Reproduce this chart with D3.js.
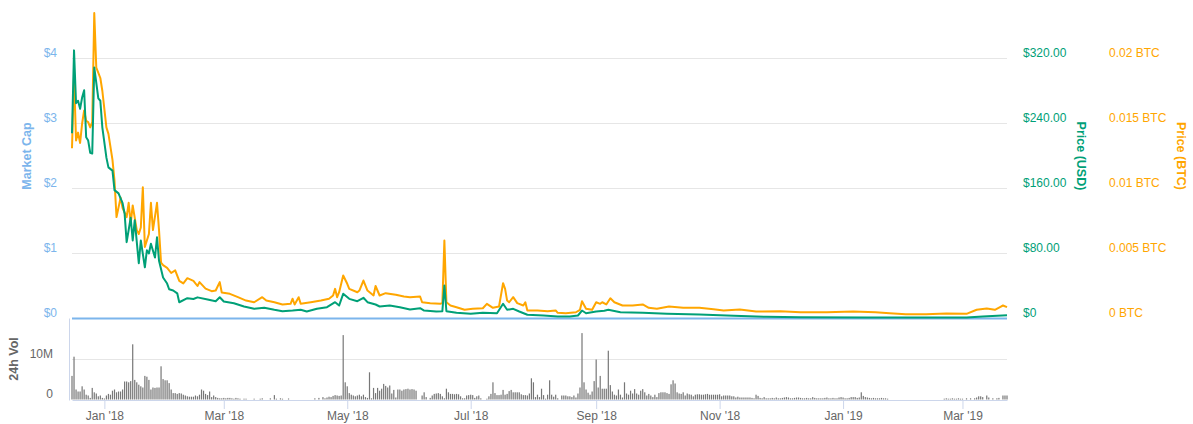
<!DOCTYPE html>
<html>
<head>
<meta charset="utf-8">
<script src="https://cdn.jsdelivr.net/npm/d3@7"></script>
<style>
body { margin: 0; background: #fff; }
svg { display: block; font-family: "Liberation Sans", Arial, Helvetica, sans-serif; }
</style>
</head>
<body>
<svg width="1193" height="424"></svg>
<script>
// ---------------- data ----------------
var startDate = "2017-12-16",
    endDate = "2019-03-23";

// Price (USD), sampled points
var usdPoints = [
  ["2017-12-16", 228], ["2017-12-17", 330], ["2017-12-18", 265], ["2017-12-19", 268],
  ["2017-12-20", 258], ["2017-12-21", 272], ["2017-12-22", 281], ["2017-12-23", 223],
  ["2017-12-24", 219], ["2017-12-25", 204], ["2017-12-26", 203], ["2017-12-27", 309],
  ["2017-12-29", 271], ["2017-12-30", 268], ["2017-12-31", 235], ["2018-01-02", 198],
  ["2018-01-03", 186], ["2018-01-05", 182], ["2018-01-06", 158], ["2018-01-08", 154],
  ["2018-01-10", 142], ["2018-01-11", 129], ["2018-01-12", 94], ["2018-01-14", 124],
  ["2018-01-15", 96], ["2018-01-16", 121], ["2018-01-18", 68], ["2018-01-19", 96],
  ["2018-01-21", 63], ["2018-01-22", 84], ["2018-01-23", 80], ["2018-01-24", 92],
  ["2018-01-26", 75], ["2018-01-27", 100], ["2018-01-28", 71], ["2018-01-30", 50.5],
  ["2018-02-01", 43], ["2018-02-02", 36], ["2018-02-04", 34.5], ["2018-02-06", 31],
  ["2018-02-07", 20], ["2018-02-11", 25], ["2018-02-14", 24], ["2018-02-16", 26],
  ["2018-02-21", 23.4], ["2018-02-25", 21.3], ["2018-02-27", 26.2], ["2018-03-01", 20.9],
  ["2018-03-06", 18.8], ["2018-03-11", 14.8], ["2018-03-16", 11.9], ["2018-03-21", 13.2],
  ["2018-03-26", 10.7], ["2018-03-30", 9], ["2018-04-04", 9.8], ["2018-04-08", 10.7],
  ["2018-04-11", 8.6], ["2018-04-16", 11.9], ["2018-04-21", 13.9], ["2018-04-25", 20.1],
  ["2018-04-27", 16], ["2018-04-29", 30.4], ["2018-05-02", 24.2], ["2018-05-06", 21.3],
  ["2018-05-09", 25.5], ["2018-05-11", 20.1], ["2018-05-15", 17.2], ["2018-05-17", 14.8],
  ["2018-05-22", 16], ["2018-05-27", 13.9], ["2018-06-01", 11.1], ["2018-06-06", 12.7],
  ["2018-06-08", 9.8], ["2018-06-14", 8.6], ["2018-06-17", 9], ["2018-06-18", 40.6],
  ["2018-06-19", 9], ["2018-06-24", 7], ["2018-07-01", 5.8], ["2018-07-07", 7],
  ["2018-07-14", 6.5], ["2018-07-17", 18.1], ["2018-07-19", 10.7], ["2018-07-22", 11.9],
  ["2018-07-25", 8.6], ["2018-07-29", 4.6], ["2018-08-06", 3.7], ["2018-08-13", 2.5],
  ["2018-08-19", 2.5], ["2018-08-23", 3.7], ["2018-08-25", 9.8], ["2018-08-27", 6.5],
  ["2018-09-01", 8.6], ["2018-09-05", 9.5], ["2018-09-07", 10.7], ["2018-09-13", 7.8],
  ["2018-09-24", 7], ["2018-10-06", 5.8], ["2018-10-22", 4.9], ["2018-11-08", 3.3],
  ["2018-11-24", 2.1], ["2018-12-11", 1.6], ["2019-01-13", 1.2], ["2019-03-03", 1.2],
  ["2019-03-11", 2.5], ["2019-03-23", 4.1]
];

// Price (BTC), sampled points
var btcPoints = [
  ["2017-12-16", 0.0131], ["2017-12-17", 0.0187], ["2017-12-18", 0.0137], ["2017-12-19", 0.0143],
  ["2017-12-20", 0.0135], ["2017-12-21", 0.0150], ["2017-12-22", 0.0160], ["2017-12-23", 0.0152],
  ["2017-12-24", 0.0151], ["2017-12-25", 0.0147], ["2017-12-26", 0.0151], ["2017-12-27", 0.0235],
  ["2017-12-28", 0.0193], ["2017-12-30", 0.0185], ["2017-12-31", 0.0175], ["2018-01-02", 0.0147],
  ["2018-01-03", 0.0142], ["2018-01-05", 0.0122], ["2018-01-06", 0.0106], ["2018-01-07", 0.0078],
  ["2018-01-09", 0.0093], ["2018-01-10", 0.0085], ["2018-01-12", 0.0078], ["2018-01-13", 0.0089],
  ["2018-01-14", 0.0073], ["2018-01-15", 0.0087], ["2018-01-17", 0.0068], ["2018-01-18", 0.0065],
  ["2018-01-19", 0.0070], ["2018-01-20", 0.0101], ["2018-01-21", 0.0055], ["2018-01-23", 0.0065],
  ["2018-01-24", 0.0089], ["2018-01-25", 0.0068], ["2018-01-27", 0.0089], ["2018-01-28", 0.0068],
  ["2018-01-29", 0.0043], ["2018-01-30", 0.0041], ["2018-02-01", 0.0039], ["2018-02-03", 0.0035],
  ["2018-02-05", 0.0037], ["2018-02-07", 0.0029], ["2018-02-09", 0.0027], ["2018-02-11", 0.0031],
  ["2018-02-14", 0.0029], ["2018-02-16", 0.0025], ["2018-02-17", 0.0028], ["2018-02-20", 0.0023],
  ["2018-02-23", 0.0021], ["2018-02-25", 0.00215], ["2018-02-27", 0.0028], ["2018-02-28", 0.0020],
  ["2018-03-04", 0.0019], ["2018-03-08", 0.00164], ["2018-03-12", 0.00138], ["2018-03-16", 0.00125],
  ["2018-03-20", 0.00164], ["2018-03-22", 0.00138], ["2018-03-26", 0.00125], ["2018-03-30", 0.00108],
  ["2018-04-03", 0.00113], ["2018-04-04", 0.00152], ["2018-04-05", 0.00108], ["2018-04-07", 0.00164],
  ["2018-04-08", 0.00113], ["2018-04-13", 0.00125], ["2018-04-18", 0.00138], ["2018-04-22", 0.00152],
  ["2018-04-24", 0.00177], ["2018-04-25", 0.00228], ["2018-04-26", 0.00164], ["2018-04-27", 0.00202],
  ["2018-04-29", 0.00331], ["2018-05-01", 0.00267], ["2018-05-02", 0.00228], ["2018-05-06", 0.00202],
  ["2018-05-07", 0.00215], ["2018-05-09", 0.00292], ["2018-05-11", 0.00215], ["2018-05-14", 0.00177],
  ["2018-05-15", 0.0025], ["2018-05-17", 0.00177], ["2018-05-20", 0.00195], ["2018-05-25", 0.00182],
  ["2018-05-29", 0.00169], ["2018-06-01", 0.00164], ["2018-06-06", 0.00169], ["2018-06-07", 0.00125],
  ["2018-06-11", 0.00118], ["2018-06-16", 0.00113], ["2018-06-17", 0.00118], ["2018-06-18", 0.0060],
  ["2018-06-19", 0.00125], ["2018-06-21", 0.0010], ["2018-06-24", 0.00087], ["2018-06-28", 0.00067],
  ["2018-07-02", 0.00075], ["2018-07-07", 0.00079], ["2018-07-09", 0.00113], ["2018-07-12", 0.00082],
  ["2018-07-15", 0.00092], ["2018-07-17", 0.00272], ["2018-07-18", 0.00228], ["2018-07-19", 0.00138],
  ["2018-07-20", 0.00125], ["2018-07-22", 0.00164], ["2018-07-24", 0.00118], ["2018-07-27", 0.0010],
  ["2018-07-28", 0.00125], ["2018-07-29", 0.00062], ["2018-08-03", 0.00062], ["2018-08-08", 0.00056],
  ["2018-08-12", 0.00062], ["2018-08-13", 0.00044], ["2018-08-17", 0.00041], ["2018-08-22", 0.00048],
  ["2018-08-24", 0.00067], ["2018-08-25", 0.00133], ["2018-08-27", 0.00075], ["2018-08-30", 0.00067],
  ["2018-09-01", 0.00125], ["2018-09-03", 0.00113], ["2018-09-04", 0.00125], ["2018-09-06", 0.00108],
  ["2018-09-08", 0.00156], ["2018-09-10", 0.00125], ["2018-09-14", 0.0010], ["2018-09-19", 0.0010],
  ["2018-09-24", 0.00108], ["2018-09-27", 0.00082], ["2018-10-01", 0.00075], ["2018-10-07", 0.00092],
  ["2018-10-14", 0.00082], ["2018-10-22", 0.00082], ["2018-10-29", 0.00072], ["2018-11-03", 0.00062],
  ["2018-11-11", 0.00069], ["2018-11-19", 0.00054], ["2018-12-01", 0.00056], ["2018-12-11", 0.00048],
  ["2018-12-24", 0.00048], ["2019-01-06", 0.00054], ["2019-01-17", 0.00048], ["2019-01-24", 0.00041],
  ["2019-02-01", 0.00033], ["2019-02-11", 0.00033], ["2019-02-21", 0.00038], ["2019-03-03", 0.00036],
  ["2019-03-08", 0.00067], ["2019-03-13", 0.00077], ["2019-03-17", 0.00067], ["2019-03-20", 0.00092],
  ["2019-03-21", 0.0010], ["2019-03-23", 0.00087]
];

// Market cap sits on zero for the whole range
var marketCapPoints = [["2017-12-16", 0], ["2019-03-23", 0]];

// 24h volume, one bar per day from volumeStart, in millions
var volumeStart = "2017-12-16";
var volumeM = [
  5.9, 10.7, 2.5, 2, 2, 3.3, 2.5, 1.2, 1, 0.4, 2.9, 1.8, 1.5, 0.8, 1, 0.4, 0.25, 1, 1.4, 1.2,
  2.2, 2.5, 1.8, 2, 2, 2.5, 4.5, 4.5, 4.3, 4.6, 13.8, 4.9, 4.3, 3.7, 3.3, 3, 5.9, 5.7, 4.9, 2.5,
  3, 2.9, 3, 3, 8.3, 5.1, 4.8, 4.8, 4.1, 2.5, 1.6, 1.6, 1.4, 1.6, 1.5, 1.2, 1, 0.8, 0.7, 0.7,
  0.7, 1, 0.8, 1.2, 2.5, 2.2, 1.4, 1.1, 2, 0.6, 1, 0.6,
  0.4, 0.3, 0.3, 0.4, 0.3, 0.4, 0.4, 0.3, 0.2, 0.4, 0.3, 0.2, 0, 0.2, 0.2, 0, 0, 0, 0.2, 0,
  0, 0.2, 0.3, 0, 0, 0, 0.3, 0, 1.1, 0.2, 0, 0.3, 0.2, 0, 0, 0.25, 0, 0, 0,
  0, 0, 0, 0, 0, 0, 0, 0, 0,
  0.3, 0, 0.4, 0, 0.6, 0.3, 0.5, 0.7, 0.6, 0.9, 1.1, 1.0, 0.9, 1.0,
  16.1,
  4.3, 3.3, 1.6, 1.2, 1, 0.8, 1, 1.2, 0.8, 1.2, 0.6, 0.4, 6.8, 0.3, 2.9, 1.6, 2.9, 2.2, 2.7, 3.9,
  3.4, 3.0,
  3.5, 1.5, 2.4, 0.5, 2.5, 2.5, 2.2, 2.5, 2.6, 2.7, 2.5, 2.6, 2.5, 2.2, 0, 0, 1.0, 1.8, 0.6, 0,
  0.4, 1.0, 1.4, 1.5, 1.6, 1.4, 0.8, 0.3, 2.7, 1.8, 1.4, 1.4, 1.3, 1.4, 1.3, 0.8, 0.3, 0.3, 1.0, 1.1,
  1.2, 1.1, 0.4, 0.8, 1.0, 0.3, 0, 0, 0.2, 0.8, 1.4, 4.3, 1.6, 1.1, 1.1, 1.2, 2.4, 1.2, 1.4, 2.1,
  2.4, 1.8, 1.8, 1.8, 1.8, 1.3, 1.1, 1.1, 1.0, 1.5, 5.3, 4.3, 0.6, 1.2, 0.6, 2.7, 1.1, 0.2, 1.2, 4.8,
  1.2, 0.7, 1.2, 0.3, 0, 1.0, 1.0, 1.0, 0.8, 0.8, 0.6, 1.0, 0.5, 1.5, 3.0, 16.6, 4.3, 2.5, 1.7, 1.2,
  2.0, 4.6, 10.0, 3.0, 5.9, 2.7, 2.7, 2.7, 12.2, 3.6, 2.0, 1.2, 1.0, 2.5, 1.2, 0.5, 4.3, 1.5, 1.2, 2.2,
  1.5, 2.6, 1.5, 1.2, 2.2, 2.6, 1.8, 1.0, 1.4, 1.0, 0.6, 1.2, 0.6, 1.6, 1.8, 1.8, 1.8, 1.6, 1.4, 3.8,
  4.8, 4.0, 1.8, 1.5, 1.4, 1.8, 1.0, 1.5, 1.3, 1.2, 0.8, 1.2, 1.3, 1.3, 1.2, 1.2, 1.3, 1.4, 1.2, 1.2,
  1.2, 1.2, 1.2, 1.3, 0.8, 1.0, 1.0, 1.0, 1.0, 0.8, 0.8, 0.5, 0.7, 0.5, 0.5, 0.5, 0.5, 0.5, 0.5, 0.4,
  0.3, 1.2, 0.9, 0.4, 0.3, 0.6, 0.3, 0.3, 0.3,
  0.4, 0.3, 0.5, 0.3, 0.3, 0.4, 0.5, 0.6, 0.5, 0.3, 0.3, 0.4, 0.5, 0.5, 0.4, 0.3, 0.3, 0.4, 0.3, 0.3,
  0.6, 0.4, 0.3, 0.3, 0.3, 0.3, 0.4, 0.5, 0.3, 0.3, 0.4, 0.3, 0.3, 0.5, 0.6, 0.5, 0.3, 0.3, 0.4, 0.6,
  0.6, 0.6, 0.4, 0.5,
  1.8, 0.9, 0.6, 0.5, 0.4, 0.3, 0.4, 0.3, 0.3, 0.3, 0.4, 0.3, 0.3, 0.2,
  0, 0, 0, 0, 0, 0, 0, 0, 0, 0, 0, 0, 0, 0, 0, 0, 0, 0, 0, 0, 0, 0, 0, 0, 0, 0, 0,
  0.2, 0.3, 0.2, 0.2, 0.3, 0.2, 0.2, 0.3, 0.2, 0.2,
  0, 0.3, 0,
  0.3, 0, 0.3, 0.5, 0.8, 0.8, 0.6, 0, 1.0, 0.5, 0, 0.3, 0, 0.3, 0.4, 0, 1.0, 1.0, 1.0
];

// axis ticks
var capTicks = [0, 1, 2, 3, 4];
var usdTicks = [0, 80, 160, 240, 320];
var btcTicks = [0, 0.005, 0.01, 0.015, 0.02];
var volTicks = [0, 10];
var monthTicks = ["2018-01-01", "2018-03-01", "2018-05-01", "2018-07-01",
                  "2018-09-01", "2018-11-01", "2019-01-01", "2019-03-01"];

// ---------------- chart ----------------
var svg = d3.select("svg");
var parse = d3.utcParse("%Y-%m-%d");

var colCap = "#7cb5ec", colUsd = "#00a077", colBtc = "#ffa600",
    colText = "#666666", colGrid = "#e6e6e6", colAxis = "#ccd6eb";

var plotLeft = 72, plotRight = 1007;

var x = d3.scaleUtc().domain([parse(startDate), parse(endDate)]).range([plotLeft, plotRight]);
var yCap = d3.scaleLinear().domain([0, 4]).range([318.5, 58.5]);
var yUsd = d3.scaleLinear().domain([0, 320]).range([318.5, 58.5]);
var yBtc = d3.scaleLinear().domain([0, 0.02]).range([318.5, 58.5]);
var yVol = d3.scaleLinear().domain([0, 20]).range([399.5, 319.5]);

// grid lines of the price pane
svg.append("g")
   .selectAll("line")
   .data(capTicks.slice(1))
   .enter().append("line")
   .attr("x1", plotLeft).attr("x2", plotRight)
   .attr("y1", function(d) { return yCap(d); })
   .attr("y2", function(d) { return yCap(d); })
   .attr("stroke", colGrid);

// grid line of the volume pane
svg.append("g")
   .selectAll("line")
   .data(volTicks.slice(1))
   .enter().append("line")
   .attr("x1", plotLeft).attr("x2", plotRight)
   .attr("y1", function(d) { return yVol(d); })
   .attr("y2", function(d) { return yVol(d); })
   .attr("stroke", colGrid);

// left edge of volume pane
svg.append("line")
   .attr("x1", 69.5).attr("x2", 69.5)
   .attr("y1", yVol(0) - 81).attr("y2", yVol(0) + 1)
   .attr("stroke", colAxis);

// small helper to style an axis group
function styleAxis(g, color, size, dyPx) {
    g.select(".domain").remove();
    g.selectAll("line").remove();
    g.selectAll("text")
     .attr("dy", null)
     .attr("y", dyPx)
     .attr("fill", color)
     .style("font-size", size + "px");
}

// Market cap axis (left)
svg.append("g")
   .attr("transform", "translate(57,0)")
   .call(d3.axisLeft(yCap).tickValues(capTicks).tickSize(0).tickPadding(0)
           .tickFormat(function(d) { return "$" + d; }))
   .call(styleAxis, colCap, 12, -2);

// Price USD axis (right)
svg.append("g")
   .attr("transform", "translate(1023,0)")
   .call(d3.axisRight(yUsd).tickValues(usdTicks).tickSize(0).tickPadding(0)
           .tickFormat(function(d) { return d === 0 ? "$0" : "$" + d3.format(".2f")(d); }))
   .call(styleAxis, colUsd, 12, -2);

// Price BTC axis (right)
svg.append("g")
   .attr("transform", "translate(1109,0)")
   .call(d3.axisRight(yBtc).tickValues(btcTicks).tickSize(0).tickPadding(0)
           .tickFormat(function(d) { return d + " BTC"; }))
   .call(styleAxis, colBtc, 12, -2);

// Volume axis
svg.append("g")
   .attr("transform", "translate(53,0)")
   .call(d3.axisLeft(yVol).tickValues(volTicks).tickSize(0).tickPadding(0)
           .tickFormat(function(d) { return d === 0 ? "0" : d + "M"; }))
   .call(styleAxis, colText, 12, -2);

// Axis titles
svg.append("text")
   .attr("transform", "translate(31,156) rotate(-90)")
   .attr("text-anchor", "middle")
   .attr("fill", colCap)
   .style("font-size", "12.5px")
   .style("font-weight", "bold")
   .text("Market Cap");

svg.append("text")
   .attr("transform", "translate(1077,156) rotate(90)")
   .attr("text-anchor", "middle")
   .attr("fill", colUsd)
   .style("font-size", "12.5px")
   .style("font-weight", "bold")
   .text("Price (USD)");

svg.append("text")
   .attr("transform", "translate(1177,156) rotate(90)")
   .attr("text-anchor", "middle")
   .attr("fill", colBtc)
   .style("font-size", "12.5px")
   .style("font-weight", "bold")
   .text("Price (BTC)");

svg.append("text")
   .attr("transform", "translate(18,359) rotate(-90)")
   .attr("text-anchor", "middle")
   .attr("fill", colText)
   .style("font-size", "12.5px")
   .style("font-weight", "bold")
   .text("24h Vol");

// Volume bars
var volStart = parse(volumeStart);
svg.append("g")
   .selectAll("rect")
   .data(volumeM.map(function(v, i) { return { date: d3.utcDay.offset(volStart, i), value: v }; })
                .filter(function(d) { return d.value > 0; }))
   .enter().append("rect")
   .attr("x", function(d) { return x(d.date) - 0.6; })
   .attr("width", 1.2)
   .attr("y", function(d) { return yVol(d.value); })
   .attr("height", function(d) { return yVol(0) - yVol(d.value); })
   .attr("fill", "#777");

// X axis under the volume pane
svg.append("g")
   .attr("transform", "translate(0,400)")
   .call(d3.axisBottom(x).tickValues(monthTicks.map(parse))
           .tickFormat(d3.utcFormat("%b '%y"))
           .tickSize(9).tickSizeOuter(0).tickPadding(2))
   .call(function(g) {
       g.select(".domain").attr("stroke", colAxis);
       g.selectAll(".tick line").attr("stroke", colAxis);
       g.selectAll(".tick text").attr("fill", colText).style("font-size", "12px")
        .style("font-family", "'Liberation Sans', Arial, sans-serif");
   });

// Series lines
function seriesLine(scale) {
    return d3.line()
             .x(function(d) { return x(parse(d[0])); })
             .y(function(d) { return scale(d[1]); });
}

svg.append("path")
   .datum(marketCapPoints)
   .attr("d", seriesLine(yCap))
   .attr("fill", "none")
   .attr("stroke", colCap)
   .attr("stroke-width", 2);

svg.append("path")
   .datum(btcPoints)
   .attr("d", seriesLine(yBtc))
   .attr("fill", "none")
   .attr("stroke", colBtc)
   .attr("stroke-width", 2)
   .attr("stroke-linejoin", "round");

svg.append("path")
   .datum(usdPoints)
   .attr("d", seriesLine(yUsd))
   .attr("fill", "none")
   .attr("stroke", colUsd)
   .attr("stroke-width", 2)
   .attr("stroke-linejoin", "round");
</script>
</body>
</html>
